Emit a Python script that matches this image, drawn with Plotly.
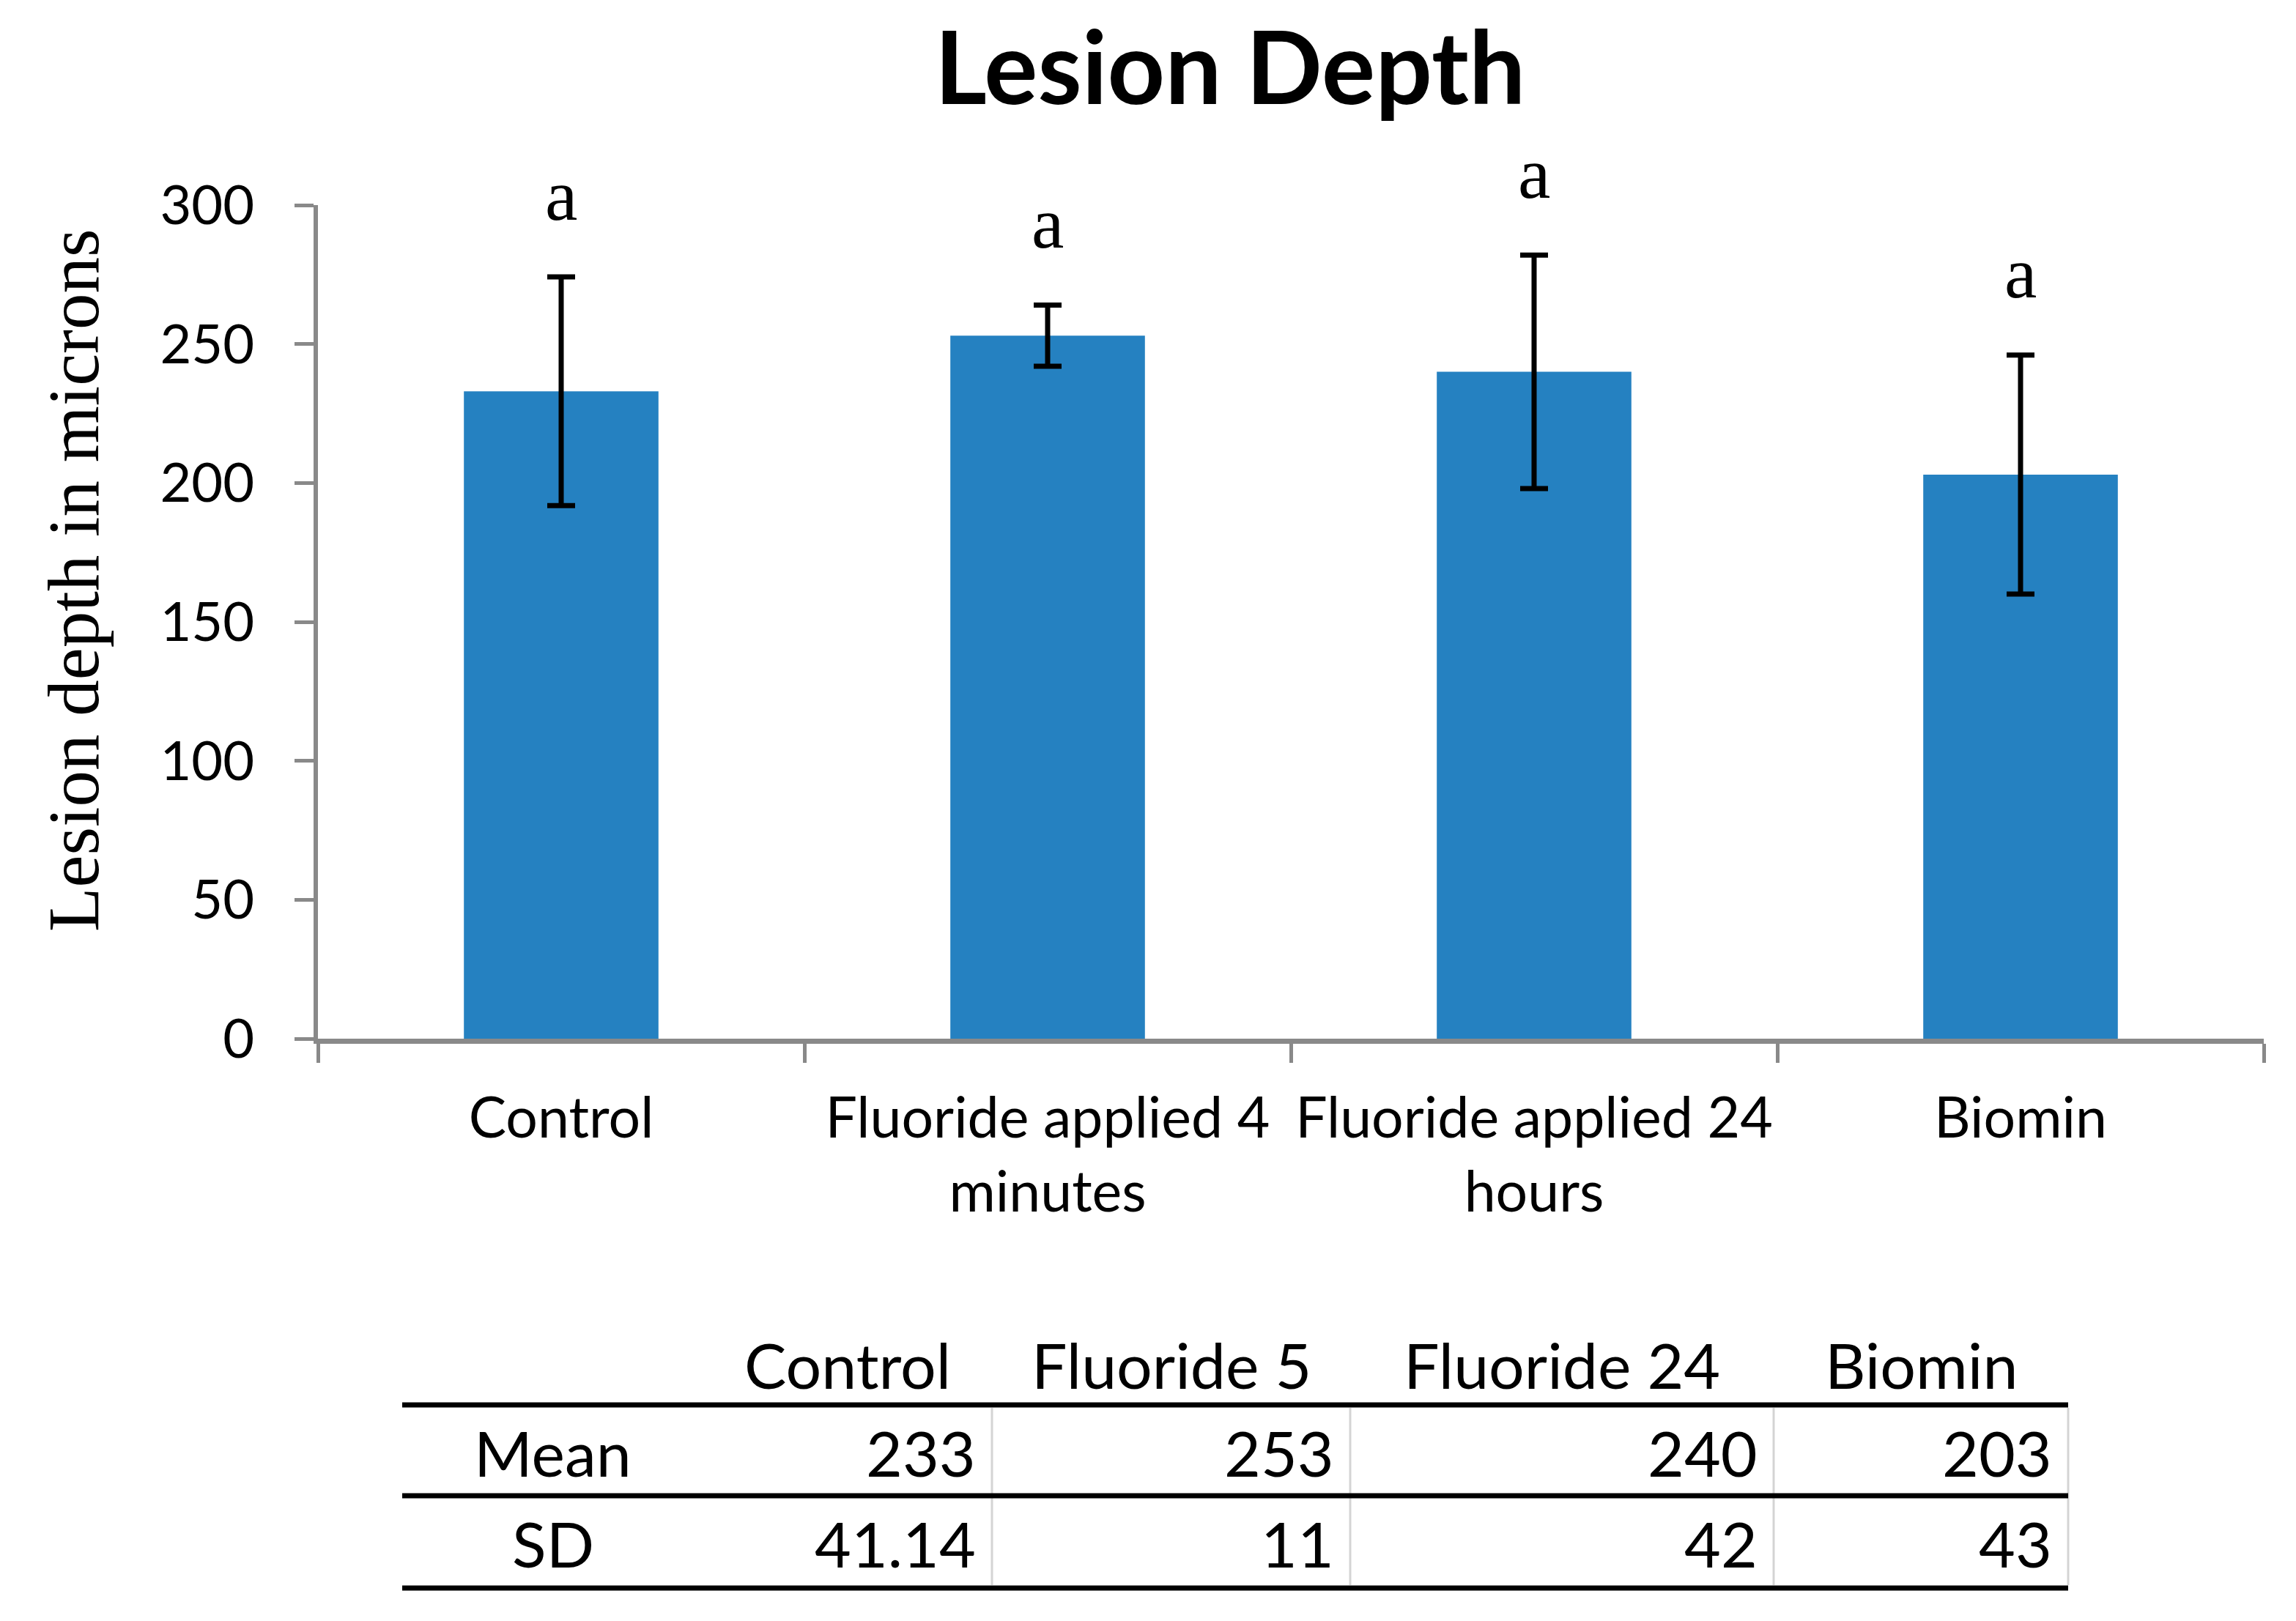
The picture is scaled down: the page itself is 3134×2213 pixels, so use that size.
import plotly.graph_objects as go

# ---------------- data ----------------
categories = ["Control", "Fluoride applied 4<br>minutes", "Fluoride applied 24<br>hours", "Biomin"]
means = [233, 253, 240, 203]
sds = [41.14, 11, 42, 43]
letters = ["a", "a", "a", "a"]

table_headers = ["Control", "Fluoride 5", "Fluoride 24", "Biomin"]
table_row_labels = ["Mean", "SD"]
table_mean_text = ["233", "253", "240", "203"]
table_sd_text = ["41.14", "11", "42", "43"]

y_ticks = [0, 50, 100, 150, 200, 250, 300]

# ---------------- layout geometry (page pixels) ----------------
PAGE_W, PAGE_H = 3134, 2213
OFF = 8  # default body margin of the html page
FIG_W, FIG_H = PAGE_W - 2 * OFF, PAGE_H - 2 * OFF
L, R, T, B = 434, 3090, 280, 1418   # plot area in page pixels
PW, PH = R - L, B - T

def px(x):
    return (x - L) / PW

def py(y):
    return (B - y) / PH

SANS = "Lato"
SERIF = "Liberation Serif"
AXIS_GREY = "#898989"
BAR_BLUE = "#2581C1"

fig = go.Figure()
fig.add_trace(go.Bar(
    x=categories,
    y=means,
    width=0.4,
    marker=dict(color=BAR_BLUE, line=dict(width=0)),
    error_y=dict(type="data", array=sds, visible=True, color="black",
                 thickness=7, width=19),
    showlegend=False,
    hoverinfo="skip",
))

annotations = []
# significance letters above the error bars
for c, m, s, t in zip(categories, means, sds, letters):
    annotations.append(dict(
        x=c, y=m + s, xref="x", yref="y", text=t, showarrow=False,
        yanchor="middle", xanchor="center", yshift=112,
        font=dict(family=SERIF, size=100, color="black"),
    ))

# y-axis title
annotations.append(dict(
    x=px(100), y=py(792), xref="paper", yref="paper",
    text="Lesion depth in microns", textangle=-90, showarrow=False,
    xanchor="center", yanchor="middle",
    font=dict(family=SERIF, size=99, color="black"),
))

# ---------------- table ----------------
col_edges = [549, 960, 1354, 1843, 2421, 2823]
row_lines = [1918, 2042, 2168]
header_y = 1862
row_centers = [1982, 2106]
label_cx = (col_edges[0] + col_edges[1]) / 2
TFONT = dict(family=SANS, size=86, color="black")

shapes = []
for yl in row_lines:
    shapes.append(dict(type="line", xref="paper", yref="paper",
                       x0=px(col_edges[0]), x1=px(col_edges[-1]),
                       y0=py(yl), y1=py(yl),
                       line=dict(color="black", width=7)))
for xe in col_edges[2:]:
    shapes.append(dict(type="line", xref="paper", yref="paper",
                       x0=px(xe), x1=px(xe),
                       y0=py(row_lines[0] + 4), y1=py(row_lines[-1] - 4),
                       line=dict(color="#D4D4D4", width=3), layer="below"))

for j, h in enumerate(table_headers):
    cx = (col_edges[j + 1] + col_edges[j + 2]) / 2
    annotations.append(dict(x=px(cx), y=py(header_y), xref="paper", yref="paper",
                            text=h, showarrow=False, xanchor="center",
                            yanchor="middle", font=TFONT))

for r, (lab, vals) in enumerate(zip(table_row_labels, [table_mean_text, table_sd_text])):
    annotations.append(dict(x=px(label_cx), y=py(row_centers[r]), xref="paper",
                            yref="paper", text=lab, showarrow=False,
                            xanchor="center", yanchor="middle", font=TFONT))
    for j, v in enumerate(vals):
        xr = col_edges[j + 2] - 20
        annotations.append(dict(x=px(xr), y=py(row_centers[r]), xref="paper",
                                yref="paper", text=v, showarrow=False,
                                xanchor="right", yanchor="middle", font=TFONT))

fig.update_layout(
    width=FIG_W, height=FIG_H,
    margin=dict(l=L - OFF, r=FIG_W - (R - OFF), t=T - OFF, b=FIG_H - (B - OFF), pad=0),
    paper_bgcolor="white", plot_bgcolor="white",
    title=dict(text="<b>Lesion Depth</b>",
               x=((1280 + 2078) / 2 - OFF) / FIG_W, xanchor="center",
               y=1 - (94 - OFF) / FIG_H, yanchor="middle",
               font=dict(family=SANS, size=137, color="black")),
    xaxis=dict(
        type="category", categoryorder="array", categoryarray=categories,
        range=[-0.5, len(categories) - 0.5],
        showline=True, linecolor=AXIS_GREY, linewidth=7,
        ticks="outside", tickson="boundaries", ticklen=26, tickwidth=5, tickcolor=AXIS_GREY,
        tickfont=dict(family=SANS, size=77, color="black"),
        tickangle=0,
        ticklabelstandoff=36,
        showgrid=False, zeroline=False, fixedrange=True,
    ),
    yaxis=dict(
        range=[0, 300], tickmode="array", tickvals=y_ticks,
        showline=True, linecolor=AXIS_GREY, linewidth=6,
        ticks="outside", ticklen=26, tickwidth=5, tickcolor=AXIS_GREY,
        tickfont=dict(family=SANS, size=74, color="black"),
        ticklabelstandoff=40,
        showgrid=False, zeroline=False, fixedrange=True,
    ),
    annotations=annotations,
    shapes=shapes,
    bargap=0.6,
)

fig.write_html("out.html")
